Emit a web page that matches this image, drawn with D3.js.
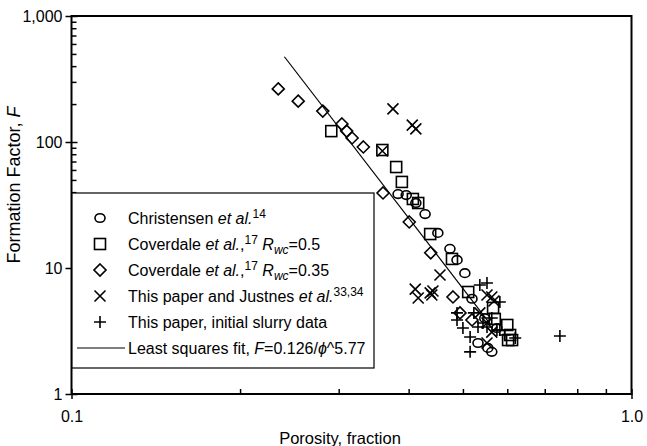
<!DOCTYPE html>
<html>
<head>
<meta charset="utf-8">
<script src="https://cdn.jsdelivr.net/npm/d3@7"></script>
<style>
  body { margin: 0; background: #fff; }
  svg { font-family: "Liberation Sans", Arial, sans-serif; }
</style>
</head>
<body>
<div id="app"></div>
<script>
// values (porosity, formation factor)
const christensenPhi = [0.383, 0.396, 0.412, 0.428, 0.451, 0.474, 0.488, 0.504, 0.519, 0.547, 0.575, 0.532, 0.554, 0.563];
const christensenF = [38.6, 37.9, 32.8, 26.8, 19.0, 14.2, 11.6, 9.1, 5.7, 4.0, 3.34, 2.54, 2.32, 2.16];

const cov05Phi = [0.291, 0.359, 0.380, 0.389, 0.407, 0.416, 0.437, 0.478, 0.511, 0.566, 0.570, 0.600, 0.607, 0.602, 0.612];
const cov05F = [122, 86.4, 63.3, 48.2, 35.3, 32.8, 18.6, 11.8, 6.45, 4.82, 3.94, 3.53, 2.94, 2.68, 2.68];

const cov035Phi = [0.234, 0.254, 0.281, 0.304, 0.310, 0.317, 0.332, 0.360, 0.401, 0.438, 0.480, 0.494, 0.519];
const cov035F = [264, 211, 176, 139, 122, 107.6, 91.3, 39.4, 23.2, 13.2, 5.89, 4.40, 3.87];

const justnesPhi = [0.375, 0.406, 0.412, 0.359, 0.455, 0.411, 0.416, 0.437, 0.442, 0.440, 0.563, 0.552, 0.568, 0.536, 0.552, 0.563, 0.552];
const justnesF = [183, 136, 127, 84.8, 8.8, 6.8, 5.78, 6.34, 6.57, 6.11, 5.89, 6.11, 5.47, 4.40, 3.66, 3.10, 2.54];

const slurryPhi = [0.536, 0.552, 0.582, 0.488, 0.488, 0.500, 0.515, 0.515, 0.532, 0.552, 0.620, 0.582, 0.543, 0.575, 0.745, 0.563, 0.594, 0.523];
const slurryF = [7.33, 7.60, 5.37, 4.40, 3.87, 3.34, 2.83, 2.16, 3.40, 3.40, 2.78, 3.22, 3.66, 3.22, 2.89, 4.01, 2.94, 4.40];

// least squares fit F = 0.126 / phi^5.77
const fitA = 0.126;
const fitM = 5.77;
const fitPhi = [0.24, 0.56];

const xTicks = [0.1, 1];
const xMinor = [0.2, 0.3, 0.4, 0.5, 0.6, 0.7, 0.8, 0.9];
const yTicks = [1, 10, 100, 1000];
const yMinor = [];
[1, 10, 100].forEach(d => { for (let k = 2; k <= 9; k++) yMinor.push(d * k); });

const width = 647;
const height = 446;
const pLeft = 71.5, pRight = 631.5, pTop = 16, pBottom = 394;

const svg = d3.select('#app')
    .append('svg')
    .attr('width', width)
    .attr('height', height);

const x = d3.scaleLog().domain([0.1, 1]).range([pLeft, pRight]);
const y = d3.scaleLog().domain([1, 1000]).range([pBottom, pTop]);

// symbols
const drawSymbol = (g, type) => {
    if (type === 'circle') {
        g.append('ellipse').attr('rx', 5).attr('ry', 4.3);
    } else if (type === 'square') {
        g.append('rect').attr('x', -5.5).attr('y', -5.5).attr('width', 11).attr('height', 11);
    } else if (type === 'diamond') {
        g.append('path').attr('d', 'M0,-6L6,0L0,6L-6,0Z');
    } else if (type === 'x') {
        g.append('path').attr('d', 'M-5.5,-5.5L5.5,5.5M-5.5,5.5L5.5,-5.5');
    } else if (type === 'plus') {
        g.append('path').attr('d', 'M-6,0L6,0M0,-6L0,6');
    }
};

const series = [
    { phi: christensenPhi, F: christensenF, type: 'circle' },
    { phi: cov05Phi, F: cov05F, type: 'square' },
    { phi: cov035Phi, F: cov035F, type: 'diamond' },
    { phi: justnesPhi, F: justnesF, type: 'x' },
    { phi: slurryPhi, F: slurryF, type: 'plus' }
];

const plot = svg.append('g');

series.forEach(s => {
    const pts = plot.append('g')
        .attr('fill', 'none')
        .attr('stroke', '#000')
        .attr('stroke-width', 1.6)
        .selectAll('g')
        .data(s.phi.map((p, i) => ({ phi: p, F: s.F[i] })))
        .enter()
        .append('g')
        .attr('transform', d => `translate(${x(d.phi)},${y(d.F)})`);
    pts.each(function () { drawSymbol(d3.select(this), s.type); });
});

plot.append('path')
    .datum(fitPhi.map(p => ({ phi: p, F: fitA / Math.pow(p, fitM) })))
    .attr('d', d3.line().x(d => x(d.phi)).y(d => y(d.F)))
    .attr('fill', 'none')
    .attr('stroke', '#000')
    .attr('stroke-width', 1.2);

// axes
const axisStyle = g => {
    g.select('.domain').remove();
    g.selectAll('line').attr('stroke-width', 1.5);
    g.selectAll('text').attr('font-size', 16).attr('fill', '#000')
        .attr('font-family', '"Liberation Sans", Arial, sans-serif');
};

svg.append('g')
    .attr('transform', `translate(${pLeft},0)`)
    .call(d3.axisLeft(y).tickValues(yTicks).tickFormat(d3.format(',')).tickSize(6).tickPadding(3))
    .call(axisStyle);
svg.append('g')
    .attr('transform', `translate(${pLeft},0)`)
    .call(d3.axisLeft(y).tickValues(yTicks).tickFormat('').tickSize(-6))
    .call(axisStyle);
svg.append('g')
    .attr('transform', `translate(${pLeft},0)`)
    .call(d3.axisLeft(y).tickValues(yMinor).tickFormat('').tickSize(-5))
    .call(axisStyle);

svg.append('g')
    .attr('transform', `translate(0,${pBottom})`)
    .call(d3.axisBottom(x).tickValues(xTicks).tickFormat(d3.format('.1f')).tickSize(5).tickPadding(12))
    .call(axisStyle);
svg.append('g')
    .attr('transform', `translate(0,${pBottom})`)
    .call(d3.axisBottom(x).tickValues(xTicks).tickFormat('').tickSize(-5))
    .call(axisStyle);
svg.append('g')
    .attr('transform', `translate(0,${pBottom})`)
    .call(d3.axisBottom(x).tickValues(xMinor).tickFormat('').tickSize(-5))
    .call(axisStyle);

svg.append('rect')
    .attr('x', pLeft).attr('y', pTop)
    .attr('width', pRight - pLeft).attr('height', pBottom - pTop)
    .attr('fill', 'none')
    .attr('stroke', '#000')
    .attr('stroke-width', 2);

// axis titles
svg.append('text')
    .attr('x', 340)
    .attr('y', 444)
    .attr('text-anchor', 'middle')
    .attr('font-size', 16.5)
    .text('Porosity, fraction');

const yTitle = svg.append('text')
    .attr('transform', 'translate(20,185) rotate(-90)')
    .attr('text-anchor', 'middle')
    .attr('font-size', 18);
yTitle.append('tspan').text('Formation Factor, ');
yTitle.append('tspan').attr('font-style', 'italic').text('F');

// legend
const legend = svg.append('g');
legend.append('rect')
    .attr('x', 72).attr('y', 193)
    .attr('width', 302).attr('height', 175)
    .attr('fill', '#fff')
    .attr('stroke', '#000')
    .attr('stroke-width', 1.2);

const legendRows = [
    { type: 'circle', parts: [['Christensen '], ['et al.', 'i'], ['14', 'sup']] },
    { type: 'square', parts: [['Coverdale '], ['et al.', 'i'], [','], ['17', 'sup'], [' '], ['R', 'i'], ['wc', 'sub'], ['=0.5']] },
    { type: 'diamond', parts: [['Coverdale '], ['et al.', 'i'], [','], ['17', 'sup'], [' '], ['R', 'i'], ['wc', 'sub'], ['=0.35']] },
    { type: 'x', parts: [['This paper and Justnes '], ['et al.', 'i'], ['33,34', 'sup']] },
    { type: 'plus', parts: [['This paper, initial slurry data']] },
    { type: 'line', parts: [['Least squares fit, '], ['F', 'i'], ['=0.126/'], ['\u03d5', 'i'], ['^5.77']] }
];

legendRows.forEach((row, i) => {
    const cy = 218 + i * 26;
    if (row.type === 'line') {
        legend.append('line')
            .attr('x1', 77).attr('x2', 125)
            .attr('y1', cy).attr('y2', cy)
            .attr('stroke', '#000').attr('stroke-width', 1.2);
    } else {
        const g = legend.append('g')
            .attr('transform', `translate(100,${cy})`)
            .attr('fill', 'none')
            .attr('stroke', '#000')
            .attr('stroke-width', 1.6);
        drawSymbol(g, row.type);
    }
    const t = legend.append('text')
        .attr('x', 128)
        .attr('y', cy + 6)
        .attr('font-size', 16);
    let shift = 0;
    row.parts.forEach(([s, k]) => {
        const ts = t.append('tspan').text(s);
        let target = 0;
        if (k === 'i') ts.attr('font-style', 'italic');
        if (k === 'sup') { ts.attr('font-size', 12); target = -6; }
        if (k === 'sub') { ts.attr('font-size', 12).attr('font-style', 'italic'); target = 4; }
        if (target !== shift) { ts.attr('dy', target - shift); shift = target; }
    });
});
</script>
</body>
</html>
